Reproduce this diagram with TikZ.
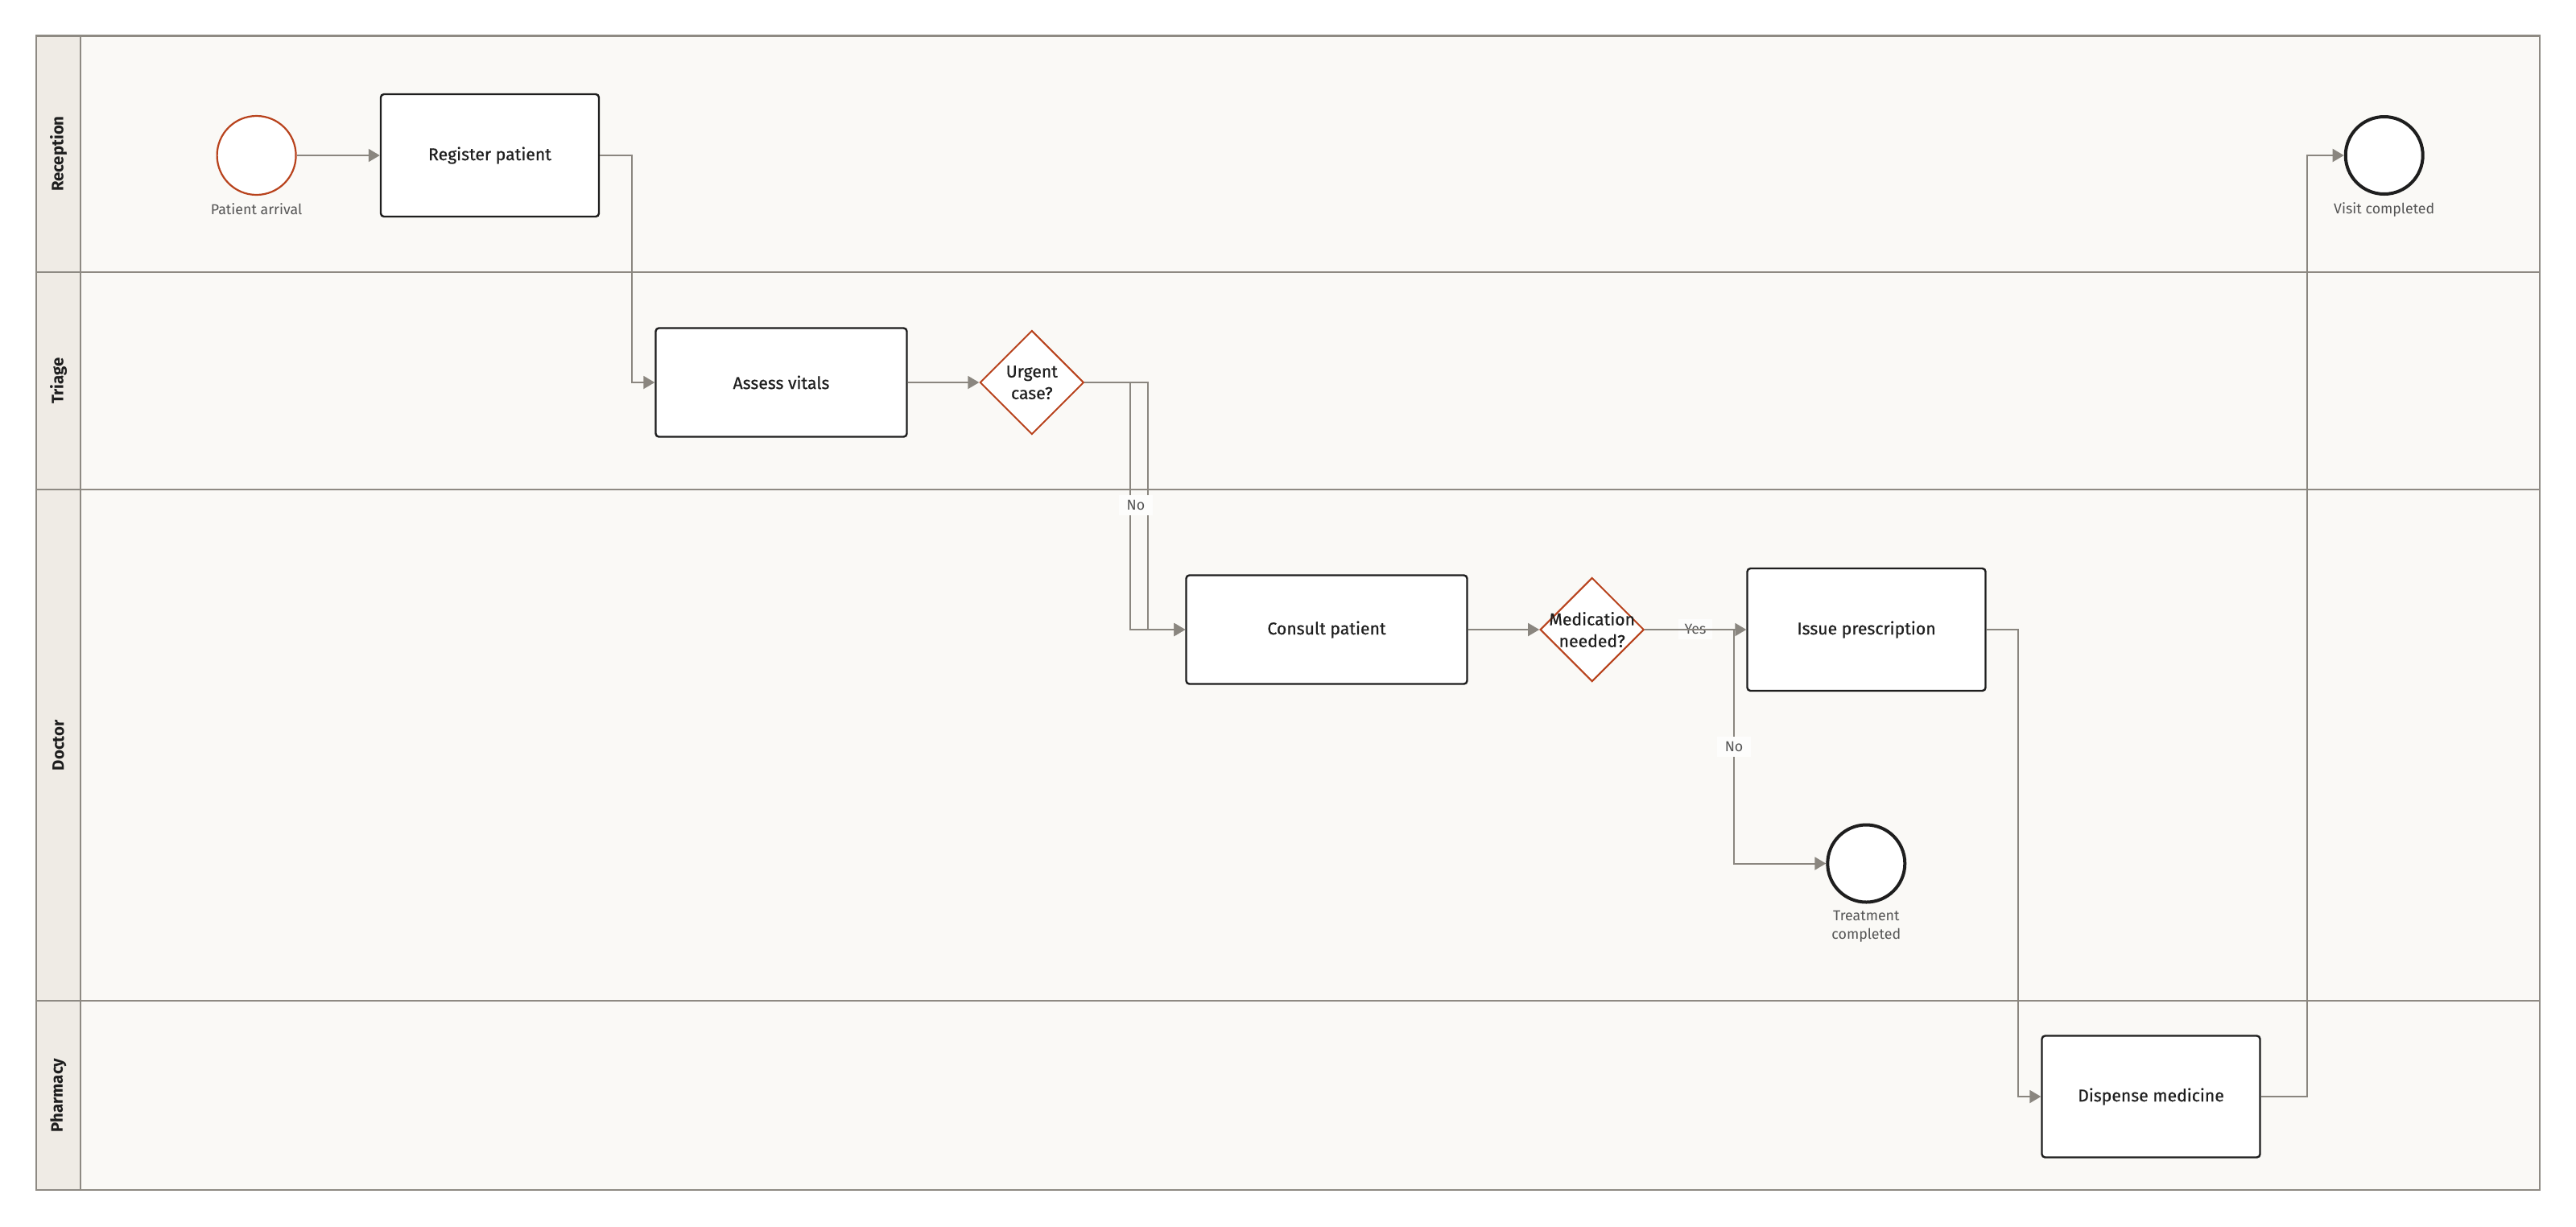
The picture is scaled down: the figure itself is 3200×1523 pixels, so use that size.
\documentclass[tikz,border=0pt]{standalone}
\usepackage{fontspec}
\setmainfont{Fira Sans}
\newfontfamily\medfont{Fira Sans}[FakeBold=0.6]
\usetikzlibrary{arrows.meta,shapes.geometric}
\definecolor{lanefill}{HTML}{FAF9F6}
\definecolor{headfill}{HTML}{EFEBE5}
\definecolor{laneline}{HTML}{8E8A83}
\definecolor{conn}{HTML}{8A867F}
\definecolor{accent}{HTML}{B8421C}
\definecolor{dark}{HTML}{1E1E1E}
\definecolor{evtext}{HTML}{555555}
\definecolor{labfill}{HTML}{FDFDFC}
\tikzset{
  lanetitle/.style={rotate=90,font=\fontsize{10.2}{12}\selectfont\bfseries,text=dark},
  taskbox/.style={rectangle,rounded corners=2pt,draw=dark,line width=1.2pt,fill=white,
    font=\medfont\fontsize{10.6}{13}\selectfont,text=dark,inner sep=0pt},
  gateway/.style={diamond,draw=accent,line width=1pt,fill=white,minimum width=64.5pt,
    minimum height=64.5pt,inner sep=0pt},
  gwtext/.style={align=center,font=\medfont\fontsize{10.6}{13.5}\selectfont,text=dark},
  startev/.style={circle,draw=accent,line width=1.1pt,fill=white,minimum size=49pt,inner sep=0pt},
  endev/.style={circle,draw=dark,line width=2pt,fill=white,minimum size=48pt,inner sep=0pt},
  evlabel/.style={font=\fontsize{8.9}{11.3}\selectfont,text=evtext,align=center},
  flow/.style={draw=conn,line width=1pt,-{Triangle[length=7pt,width=8pt]}},
  flowlabel/.style={fill=labfill,font=\fontsize{8.9}{10}\selectfont,text=evtext,
    minimum width=21pt,minimum height=12.5pt,inner sep=0pt}
}
\begin{document}
\begin{tikzpicture}[x=0.5pt,y=-0.5pt]
\useasboundingbox (0,0) rectangle (3200,1523);
\fill[white] (0,0) rectangle (3200,1523);
% pool
\fill[lanefill] (100,44.5) rectangle (3155,1477.7);
\fill[headfill] (45,44.5) rectangle (100,1477.7);
\draw[laneline,line width=1pt] (45,337.7) -- (3155,337.7);
\draw[laneline,line width=1pt] (45,608.3) -- (3155,608.3);
\draw[laneline,line width=1pt] (45,1243) -- (3155,1243);
\draw[laneline,line width=1pt] (100,44.5) -- (100,1477.7);
\draw[laneline,line width=1.2pt] (45,44.5) rectangle (3155,1477.7);
\node[lanetitle] (lrec) at (72.5,191.1) {Reception};
\node[lanetitle] (ltri) at (72.5,473) {Triage};
\node[lanetitle] (ldoc) at (72.5,925.7) {Doctor};
\node[lanetitle] (lpha) at (72.5,1360.4) {Pharmacy};
% nodes
\node[startev,label={[evlabel,label distance=1pt]below:Patient arrival}] (start) at (318.6,193) {};
\node[taskbox,minimum width=135.5pt,minimum height=76pt] (register) at (608.5,193) {Register patient};
\node[taskbox,minimum width=156pt,minimum height=67.5pt] (assess) at (970.5,475) {Assess vitals};
\node[gateway] (urgent) at (1281.8,475) {};
\node[gwtext] (urgenttxt) at (urgent.center) {Urgent\\case?};
\node[taskbox,minimum width=174.5pt,minimum height=67.5pt] (consult) at (1648,782) {Consult patient};
\node[gateway] (medic) at (1977.7,782) {};
\node[gwtext] (medictxt) at (medic.center) {Medication\\needed?};
\node[taskbox,minimum width=148pt,minimum height=76pt] (issue) at (2318.5,782) {Issue prescription};
\node[endev,label={[evlabel,label distance=1pt]below:Treatment\\completed}] (treat) at (2318.3,1072.5) {};
\node[taskbox,minimum width=135.5pt,minimum height=75.5pt] (dispense) at (2672,1362) {Dispense medicine};
\node[endev,label={[evlabel,label distance=1pt]below:Visit completed}] (visit) at (2961.7,193) {};
% flows
\draw[flow] (start) -- (register);
\draw[flow] (register.east) -- (785,193) |- (assess.west);
\draw[flow] (assess) -- (urgent);
\draw[flow] (urgent.east) -- (1404,475) |- (consult.west);
\draw[flow] (urgent.east) -- (1426,475) |- (consult.west);
\node[flowlabel] (no1) at (1411,627) {No};
\draw[flow] (consult) -- (medic);
\draw[flow] (medic) -- (issue);
\node[flowlabel] (yes1) at (2106,781) {Yes};
\draw[flow] (medic.east) -- (2154,782) |- (treat.west);
\node[flowlabel] (no2) at (2154,927) {No};
\draw[flow] (issue.east) -- (2507.3,782) |- (dispense.west);
\draw[flow] (dispense.east) -- (2865.5,1362) |- (visit.west);
\end{tikzpicture}
\end{document}
